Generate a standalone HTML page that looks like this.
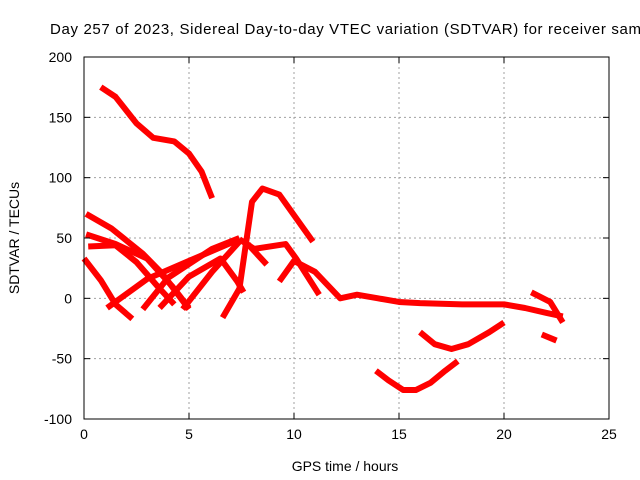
<!DOCTYPE html>
<html><head><meta charset="utf-8"><style>
body{margin:0;background:#fff;overflow:hidden;}
svg{display:block;font-family:"Liberation Sans",sans-serif;}
</style></head><body>
<svg id="chart" width="640" height="480">
<text x="50" y="34" font-size="15" textLength="600" lengthAdjust="spacing">Day 257 of 2023, Sidereal Day-to-day VTEC variation (SDTVAR) for receiver samo</text>
<g id="grid"></g><g id="series"></g><g id="axes"></g>
<text x="345" y="471" font-size="14" text-anchor="middle">GPS time / hours</text>
<text transform="translate(19,238) rotate(-90)" font-size="14" text-anchor="middle">SDTVAR / TECUs</text>
</svg>
<script>
const xTicks=[0,5,10,15,20,25];
const yTicks=[-100,-50,0,50,100,150,200];
const trackA=[[0.8,175],[1.5,167],[2.5,145],[3.3,133],[4.3,130],[5.0,120],[5.6,105],[6.1,83]];
const trackB=[[0.1,70],[1.3,58],[2.8,37],[3.7,21],[5.0,-9]];
const trackC=[[0.1,53],[1.5,45],[3,33],[4.2,10],[5,-8]];
const trackD=[[0.2,43],[1.5,44],[2.5,30],[3.5,10],[4.3,-5]];
const trackE=[[0,33],[0.8,15],[1.5,-5],[2.3,-17]];
const trackF=[[1.1,-8],[3,16],[5,31],[7.4,49]];
const trackG=[[2.8,-9],[4,17],[6.1,41],[7.4,50]];
const trackH=[[3.6,-8],[5,18],[6.5,33],[7.3,14],[7.6,5]];
const trackI=[[4.7,-9],[6.1,22],[7.4,47]];
const trackJ=[[6.6,-16],[7.4,8],[8.0,80],[8.5,91],[9.3,86],[10.9,47]];
const trackK=[[7.4,49],[8.1,41],[9.6,45],[10.1,33],[11.2,3]];
const trackL=[[9.3,14],[10,31],[11,22],[12.2,0],[13,3],[14,0],[15,-3],[16,-4],[18,-5],[19,-5],[20,-5],[21,-8],[22,-12],[22.8,-15]];
const trackM=[[7.8,45],[8.7,28]];
const trackN=[[21.3,5],[22.2,-3],[22.8,-20]];
const trackO=[[21.8,-30],[22.5,-35]];
const trackP=[[16,-28],[16.7,-38],[17.5,-42],[18.3,-38],[19.3,-28],[20,-20]];
const trackQ=[[13.9,-60],[14.5,-68],[15.2,-76],[15.8,-76],[16.5,-70],[17.2,-60],[17.8,-52]];
const tracks=[trackA,trackB,trackC,trackD,trackE,trackF,trackG,trackH,trackI,trackJ,trackK,trackL,trackM,trackN,trackO,trackP,trackQ];
const L=84,R=609,T=57,B=419;
const sx=v=>L+(v-0)/(25-0)*(R-L);
const sy=v=>B-(v+100)/300*(B-T);
const NS="http://www.w3.org/2000/svg";
const grid=document.getElementById('grid'),axes=document.getElementById('axes'),ser=document.getElementById('series');
function mk(tag,attrs,parent){const e=document.createElementNS(NS,tag);for(const k in attrs)e.setAttribute(k,attrs[k]);parent.appendChild(e);return e;}
xTicks.forEach(t=>{
  if(t>0&&t<25){const g=mk('line',{x1:sx(t),x2:sx(t),y1:T,y2:B,stroke:'#a0a0a0','stroke-dasharray':'2,3'},grid);
  
  }
  const tk=mk('text',{x:sx(t),y:B+20,'font-size':14,'text-anchor':'middle'},axes);tk.textContent=t;
  
  
  mk('line',{x1:sx(t),x2:sx(t),y1:B,y2:B-6,stroke:'#000'},axes);
  mk('line',{x1:sx(t),x2:sx(t),y1:T,y2:T+6,stroke:'#000'},axes);
});
yTicks.forEach(t=>{
  if(t>-100&&t<200){const g=mk('line',{x1:L,x2:R,y1:sy(t),y2:sy(t),stroke:'#a0a0a0','stroke-dasharray':'2,3'},grid);
  
  }
  const tk=mk('text',{x:L-12,y:sy(t)+5,'font-size':14,'text-anchor':'end'},axes);tk.textContent=t;
  
  
  mk('line',{x1:L,x2:L+6,y1:sy(t),y2:sy(t),stroke:'#000'},axes);
  mk('line',{x1:R,x2:R-6,y1:sy(t),y2:sy(t),stroke:'#000'},axes);
});
const fr=mk('rect',{x:L,y:T,width:R-L,height:B-T,fill:'none',stroke:'#000'},axes);


tracks.forEach(tr=>{
  const p=mk('polyline',{points:tr.map(d=>sx(d[0])+','+sy(d[1])).join(' '),fill:'none',stroke:'#ff0000','stroke-width':6,'stroke-linejoin':'round','stroke-linecap':'butt'},ser);
  
  
});
</script>
</body></html>
